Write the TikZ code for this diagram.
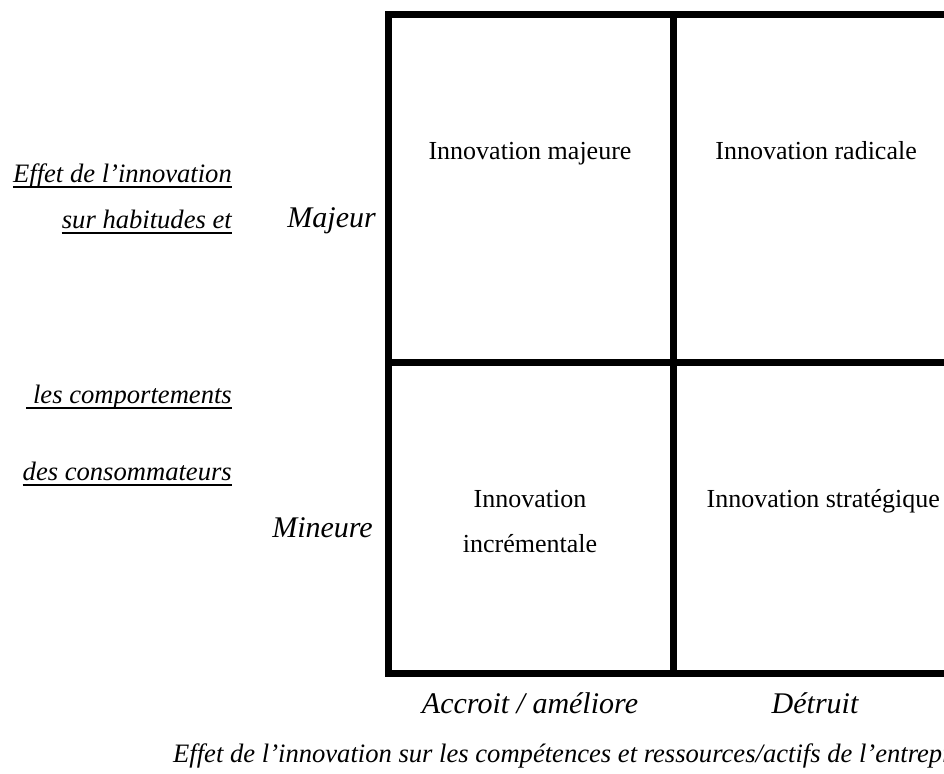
\documentclass[tikz,border=0pt]{standalone}
\usepackage{fontspec}
\setmainfont{Liberation Serif}
\begin{document}
\begin{tikzpicture}[x=1pt,y=-1pt,
  cell/.style={inner sep=0pt, font=\fontsize{26}{30}\selectfont},
  axis/.style={inner sep=0pt, font=\fontsize{26.6}{30}\selectfont\itshape},
  level/.style={inner sep=0pt, font=\fontsize{30}{34}\selectfont\itshape},
  gridline/.style={line width=6.5pt, line cap=rect},
  uline/.style={line width=1.4pt}]
\useasboundingbox (0,0) rectangle (944,773);
% grid
\coordinate (tl) at (388.5,14.5);
\coordinate (tm) at (673.5,14.5);
\coordinate (tr) at (958,14.5);
\coordinate (ml) at (388.5,362.5);
\coordinate (mr) at (958,362.5);
\coordinate (bl) at (388.5,673.5);
\coordinate (bm) at (673.5,673.5);
\coordinate (br) at (958,673.5);
\draw[gridline] (tl) -- (tr) -- (br) -- (bl) -- cycle;
\draw[gridline] (tm) -- (bm);
\draw[gridline] (ml) -- (mr);
% cells
\node[cell, anchor=base] (c1) at (530,159) {Innovation majeure};
\node[cell, anchor=base east] (c2) at (917,159) {Innovation radicale};
\node[cell, anchor=base] (c3a) at (530,507) {Innovation};
\node[cell, anchor=base] (c3b) at (530,552) {incrémentale};
\node[cell, anchor=base east] (c4) at (940,507) {Innovation stratégique};
% row labels
\node[level, anchor=base east] (maj) at (376,227) {Majeur};
\node[level, anchor=base east] (min) at (373,537) {Mineure};
% column labels
\node[level, anchor=base] (acc) at (530,713) {Accroit / améliore};
\node[level, anchor=base] (det) at (815,713) {Détruit};
\node[axis, anchor=base west] (xt) at (173,762) {Effet de l’innovation sur les compétences et ressources/actifs de l’entreprise};
% y axis title
\node[axis, anchor=base east] (y1) at (232,182) {Effet de l’innovation};
\node[axis, anchor=base east] (y2) at (232,228) {sur habitudes et};
\node[axis, anchor=base east] (y3) at (232,403) {\ les comportements};
\node[axis, anchor=base east] (y4) at (232,480) {des consommateurs};
\foreach \n in {y1,y2,y3,y4}
  \draw[uline] ([yshift=-5pt]\n.base west) -- ([yshift=-5pt]\n.base east);
\end{tikzpicture}
\end{document}
